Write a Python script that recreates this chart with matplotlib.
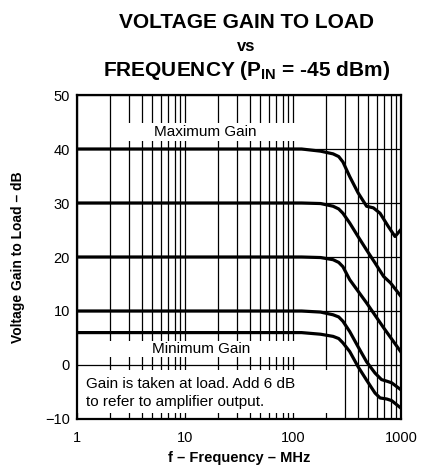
import matplotlib
matplotlib.use("Agg")
import matplotlib.pyplot as plt
from matplotlib.patches import Rectangle

plt.rcParams['font.family'] = ['Liberation Sans', 'DejaVu Sans']
plt.rcParams['mathtext.fontset'] = 'custom'
plt.rcParams['mathtext.rm'] = 'Liberation Sans'
plt.rcParams['mathtext.bf'] = 'Liberation Sans:bold'

# frequency points (MHz) and gain (dB)
f_40 = [1, 120, 180, 235, 265, 290, 335, 400, 480, 555, 640, 760, 880, 1000]
g_40 = [40, 40, 39.6, 39.1, 38.6, 37.6, 34.9, 31.9, 29.4, 29.1, 28.1, 25.7, 23.8, 25.1]

f_30 = [1, 120, 180, 235, 265, 290, 335, 400, 480, 575, 690, 800, 1000]
g_30 = [30, 30, 29.9, 29.4, 28.9, 28.1, 26.3, 23.8, 21.3, 18.9, 16.4, 15.2, 12.7]

f_20 = [1, 120, 180, 235, 265, 290, 335, 480, 690, 1000]
g_20 = [20, 20, 19.9, 19.5, 19.0, 18.2, 15.8, 11.5, 6.9, 2.4]

f_10 = [1, 120, 180, 235, 265, 290, 335, 400, 480, 575, 660, 740, 820, 1000]
g_10 = [10, 10, 9.8, 9.3, 8.9, 8.1, 6.2, 3.4, 0.6, -1.5, -2.7, -3.0, -3.3, -4.6]

f_6 = [1, 120, 180, 235, 265, 290, 335, 400, 480, 575, 640, 740, 820, 1000]
g_6 = [6, 6, 5.7, 5.3, 4.9, 4.1, 2.5, -0.3, -2.8, -5.2, -6.1, -6.3, -6.6, -8.0]

curves = [(f_40, g_40), (f_30, g_30), (f_20, g_20), (f_10, g_10), (f_6, g_6)]

xticks = [1, 10, 100, 1000]
xticklabels = ['1', '10', '100', '1000']
yticks = [-10, 0, 10, 20, 30, 40, 50]
yticklabels = ['\u221210', '0', '10', '20', '30', '40', '50']
minor_x = [m * d for d in (1, 10, 100) for m in range(2, 10)]

fig = plt.figure(figsize=(4.26, 4.71), dpi=100)
ax = fig.add_axes([77/426, 52/471, 324/426, 324/471])

ax.set_xscale('log')
ax.set_xlim(1, 1000)
ax.set_ylim(-10, 50)
ax.set_xticks(xticks)
ax.set_xticklabels(xticklabels)
ax.set_xticks(minor_x, minor=True)
ax.set_xticklabels([], minor=True)
ax.set_yticks(yticks)
ax.set_yticklabels(yticklabels)
ax.tick_params(which='both', length=0)
ax.tick_params(axis='x', pad=9, labelsize=10.5)
ax.tick_params(axis='y', pad=5, labelsize=10.5)

ax.set_axisbelow(True)
ax.grid(which='both', axis='x', color='black', lw=0.9)
ax.grid(which='major', axis='y', color='black', lw=0.9)
for s in ax.spines.values():
    s.set_linewidth(1.6)

# white label backgrounds that cut the grid
for x0, x1, y0, y1 in [(2.3, 112, 41.4, 44.9), (1.62, 112, 1.5, 4.5), (1.03, 220, -8.9, -0.9)]:
    ax.add_patch(Rectangle((x0, y0), x1 - x0, y1 - y0, facecolor='white',
                           edgecolor='none', zorder=1))

for fx, gy in curves:
    ax.plot(fx, gy, color='black', lw=2.3, zorder=2, solid_joinstyle='round')

ax.text(15.5, 43.2, 'Maximum Gain', fontsize=11, ha='center', va='center', zorder=3)
ax.text(14.0, 3.0, 'Minimum Gain', fontsize=11, ha='center', va='center', zorder=3)
ax.text(1.22, -5.15, 'Gain is taken at load. Add 6 dB\nto refer to amplifier output.',
        fontsize=11, ha='left', va='center', linespacing=1.35, zorder=3)

ax.set_xlabel('f \u2013 Frequency \u2013 MHz', fontsize=10.5, fontweight='bold')
ax.xaxis.set_label_coords(0.5, -0.098)
ax.set_ylabel('Voltage Gain to Load \u2013 dB', fontsize=10, fontweight='bold')
ax.yaxis.set_label_coords(-0.16, 0.5)

fig.text(0.578, 0.953, 'VOLTAGE GAIN TO LOAD', fontsize=15, fontweight='bold',
         ha='center', va='center')
fig.text(0.578, 0.902, 'vs', fontsize=12, fontweight='bold', ha='center', va='center')
fig.text(0.578, 0.851, r'FREQUENCY ($\mathbf{P_{IN}}$ = -45 dBm)', fontsize=15,
         fontweight='bold', ha='center', va='center')

fig.savefig('out.png', dpi=100)
